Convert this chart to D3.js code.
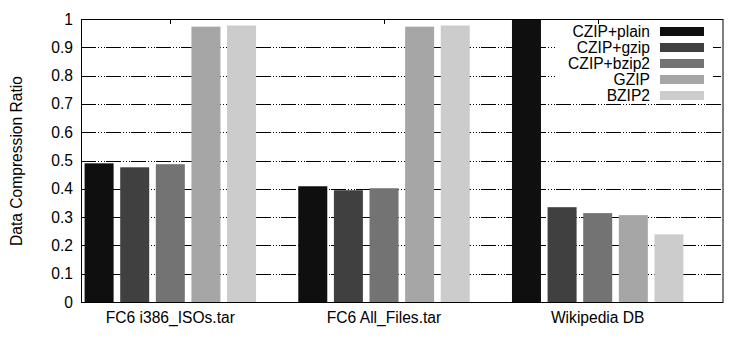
<!DOCTYPE html>
<html>
<head>
<meta charset="utf-8">
<script src="https://cdn.jsdelivr.net/npm/d3@7/dist/d3.min.js"></script>
<style>
body{margin:0;background:#fff;}
text{font-family:"Liberation Sans",Arial,Helvetica,sans-serif;font-size:15.6px;fill:#000;}
</style>
</head>
<body>
<svg id="chart" width="750" height="350"></svg>
<script>
const categories = ["FC6 i386_ISOs.tar", "FC6 All_Files.tar", "Wikipedia DB"];
const seriesNames = ["CZIP+plain", "CZIP+gzip", "CZIP+bzip2", "GZIP", "BZIP2"];
const seriesColors = ["#0f0f0f", "#404040", "#737373", "#a6a6a6", "#cccccc"];
const czipPlain = [0.490, 0.409, 1.0];
const czipGzip  = [0.476, 0.395, 0.335];
const czipBzip2 = [0.487, 0.402, 0.314];
const gzip      = [0.973, 0.973, 0.307];
const bzip2     = [0.977, 0.977, 0.239];
const yTicks = [0, 0.1, 0.2, 0.3, 0.4, 0.5, 0.6, 0.7, 0.8, 0.9, 1];
const yTickLabels = ["0", "0.1", "0.2", "0.3", "0.4", "0.5", "0.6", "0.7", "0.8", "0.9", "1"];
const yLabel = "Data Compression Ratio";

const series = [czipPlain, czipGzip, czipBzip2, gzip, bzip2];

const svg = d3.select("#chart");
const L = 81, R = 722.5, T = 19, B = 302;

const x = d3.scaleLinear().domain([-0.418, 2.584]).range([L, R]);
const y = d3.scaleLinear().domain([0, 1]).range([B, T]);
const unit = x(1) - x(0);
const step = unit / 6;
const bw = 29;

// grid
svg.append("g").selectAll("line").data(yTicks.slice(1, -1)).join("line")
  .attr("x1", L).attr("x2", R)
  .attr("y1", d => Math.round(y(d)) + 0.5).attr("y2", d => Math.round(y(d)) + 0.5)
  .attr("stroke", "#000").attr("stroke-width", 1)
  .attr("stroke-dasharray", "15,2,1,2,1,2,1,1");

// bars
const g = svg.append("g");
series.forEach((vals, k) => {
  g.selectAll(null).data(vals).join("rect")
    .attr("x", (d, i) => x(i) + (k - 2) * step - bw / 2)
    .attr("width", bw)
    .attr("y", d => y(d))
    .attr("height", d => B - y(d))
    .attr("fill", seriesColors[k]);
});

// border
svg.append("rect").attr("x", L + 0.5).attr("y", T + 0.5)
  .attr("width", R - L).attr("height", B - T)
  .attr("fill", "none").attr("stroke", "#000").attr("stroke-width", 1);

// top ticks at categories
svg.append("g").selectAll("line").data(categories).join("line")
  .attr("x1", (d, i) => Math.round(x(i)) + 0.5).attr("x2", (d, i) => Math.round(x(i)) + 0.5)
  .attr("y1", T).attr("y2", T + 5)
  .attr("stroke", "#000");

// y tick labels
svg.append("g").selectAll("text").data(yTicks).join("text")
  .attr("x", 73).attr("y", d => y(d) + 5.5)
  .attr("text-anchor", "end")
  .text((d, i) => yTickLabels[i]);

// x labels
svg.append("g").selectAll("text").data(categories).join("text")
  .attr("x", (d, i) => x(i)).attr("y", 323)
  .attr("text-anchor", "middle")
  .text(d => d);

// y axis label
svg.append("text").attr("transform", "translate(22,161) rotate(-90)")
  .attr("text-anchor", "middle").text(yLabel);

// legend
const lg = svg.append("g");
lg.append("rect").attr("x", 556).attr("y", 24).attr("width", 157).attr("height", 77).attr("fill", "#fff");
seriesNames.forEach((n, k) => {
  const cy = 31.5 + k * 16;
  lg.append("rect").attr("x", 660).attr("y", cy - 4.5).attr("width", 44).attr("height", 9)
    .attr("fill", seriesColors[k]);
  lg.append("text").attr("x", 650).attr("y", cy + 5.5).attr("text-anchor", "end").text(n);
});
</script>
</body>
</html>
